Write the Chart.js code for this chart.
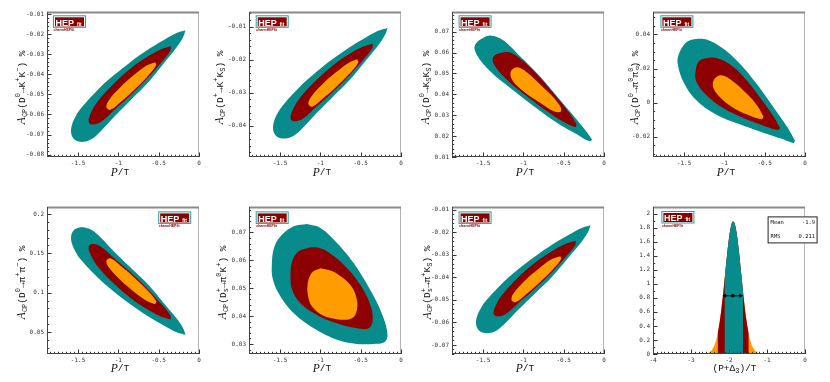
<!DOCTYPE html>
<html>
<head>
<meta charset="utf-8">
<script src="https://cdn.jsdelivr.net/npm/chart.js@4/dist/chart.umd.min.js"></script>
<style>
  html, body { margin: 0; padding: 0; background: #fff; }
  #wrap { position: relative; width: 830px; height: 382px; overflow: hidden; }
  canvas { position: absolute; }
</style>
</head>
<body>
<div id="wrap"></div>
<script>
// Contours, [P/T, A_CP %], 99.7% / 95% / 68% regions
const kk99 = [[-0.167,-0.0180],[-0.284,-0.0195],[-0.441,-0.0230],[-0.646,-0.0280],[-0.852,-0.0339],[-1.058,-0.0405],[-1.263,-0.0480],[-1.469,-0.0572],[-1.531,-0.0610],[-1.574,-0.0650],[-1.586,-0.0690],[-1.556,-0.0720],[-1.494,-0.0735],[-1.407,-0.0735],[-1.321,-0.0720],[-1.222,-0.0685],[-1.058,-0.0614],[-0.852,-0.0530],[-0.646,-0.0447],[-0.441,-0.0347],[-0.275,-0.0264],[-0.198,-0.0215],[-0.167,-0.0180]];
const kk95 = [[-0.349,-0.0260],[-0.481,-0.0277],[-0.646,-0.0314],[-0.852,-0.0372],[-1.058,-0.0447],[-1.263,-0.0539],[-1.354,-0.0605],[-1.367,-0.0639],[-1.325,-0.0650],[-1.222,-0.0639],[-1.058,-0.0580],[-0.852,-0.0505],[-0.646,-0.0422],[-0.481,-0.0347],[-0.358,-0.0284],[-0.349,-0.0260]];
const kk68 = [[-0.543,-0.0339],[-0.646,-0.0355],[-0.811,-0.0405],[-0.975,-0.0464],[-1.120,-0.0530],[-1.148,-0.0564],[-1.099,-0.0577],[-0.975,-0.0539],[-0.811,-0.0480],[-0.646,-0.0414],[-0.531,-0.0355],[-0.543,-0.0339]];

const kpks99 = [[-0.167,-0.0104],[-0.284,-0.0113],[-0.441,-0.0134],[-0.646,-0.0164],[-0.852,-0.0199],[-1.058,-0.0239],[-1.263,-0.0284],[-1.469,-0.0339],[-1.531,-0.0362],[-1.574,-0.0386],[-1.586,-0.0410],[-1.556,-0.0428],[-1.494,-0.0437],[-1.407,-0.0437],[-1.321,-0.0428],[-1.222,-0.0407],[-1.058,-0.0364],[-0.852,-0.0314],[-0.646,-0.0264],[-0.441,-0.0204],[-0.275,-0.0154],[-0.198,-0.0125],[-0.167,-0.0104]];
const kpks95 = [[-0.349,-0.0152],[-0.481,-0.0162],[-0.646,-0.0184],[-0.852,-0.0219],[-1.058,-0.0264],[-1.263,-0.0319],[-1.354,-0.0359],[-1.367,-0.0379],[-1.325,-0.0386],[-1.222,-0.0379],[-1.058,-0.0344],[-0.852,-0.0299],[-0.646,-0.0249],[-0.481,-0.0204],[-0.358,-0.0166],[-0.349,-0.0152]];
const kpks68 = [[-0.543,-0.0199],[-0.646,-0.0209],[-0.811,-0.0239],[-0.975,-0.0274],[-1.120,-0.0314],[-1.148,-0.0334],[-1.099,-0.0342],[-0.975,-0.0319],[-0.811,-0.0284],[-0.646,-0.0244],[-0.531,-0.0209],[-0.543,-0.0199]];

const ksks99 = [[-0.145,0.0181],[-0.207,0.0216],[-0.373,0.0295],[-0.581,0.0390],[-0.830,0.0501],[-1.079,0.0597],[-1.245,0.0657],[-1.369,0.0679],[-1.452,0.0679],[-1.598,0.0637],[-1.577,0.0589],[-1.411,0.0510],[-1.162,0.0430],[-0.871,0.0343],[-0.581,0.0263],[-0.332,0.0208],[-0.187,0.0176],[-0.145,0.0181]];
const ksks95 = [[-0.340,0.0256],[-0.415,0.0303],[-0.581,0.0383],[-0.788,0.0478],[-0.996,0.0557],[-1.141,0.0597],[-1.224,0.0602],[-1.369,0.0581],[-1.361,0.0541],[-1.203,0.0470],[-0.954,0.0390],[-0.705,0.0319],[-0.498,0.0267],[-0.353,0.0243],[-0.340,0.0256]];
const ksks68 = [[-0.531,0.0335],[-0.622,0.0383],[-0.788,0.0446],[-0.954,0.0505],[-1.079,0.0529],[-1.154,0.0510],[-1.141,0.0470],[-0.996,0.0414],[-0.788,0.0359],[-0.622,0.0319],[-0.539,0.0316],[-0.531,0.0335]];

const pi0pi099 = [[-0.124,-0.0223],[-0.216,-0.0146],[-0.402,-0.0019],[-0.610,0.0117],[-0.817,0.0233],[-1.025,0.0320],[-1.212,0.0369],[-1.357,0.0373],[-1.481,0.0350],[-1.573,0.0272],[-1.573,0.0214],[-1.502,0.0117],[-1.357,0.0019],[-1.108,-0.0068],[-0.817,-0.0126],[-0.527,-0.0175],[-0.278,-0.0214],[-0.145,-0.0237],[-0.124,-0.0223]];
const pi0pi095 = [[-0.307,-0.0151],[-0.382,-0.0087],[-0.527,0.0010],[-0.714,0.0126],[-0.900,0.0214],[-1.087,0.0260],[-1.212,0.0262],[-1.315,0.0243],[-1.357,0.0184],[-1.349,0.0126],[-1.232,0.0049],[-1.025,-0.0029],[-0.776,-0.0087],[-0.527,-0.0132],[-0.340,-0.0161],[-0.307,-0.0151]];
const pi0pi068 = [[-0.515,-0.0082],[-0.589,-0.0019],[-0.734,0.0058],[-0.880,0.0120],[-0.992,0.0155],[-1.066,0.0159],[-1.137,0.0126],[-1.129,0.0078],[-1.025,0.0019],[-0.859,-0.0039],[-0.672,-0.0078],[-0.535,-0.0097],[-0.515,-0.0082]];

const pipi99 = [[-0.167,0.0464],[-0.284,0.0501],[-0.441,0.0587],[-0.646,0.0709],[-0.852,0.0853],[-1.058,0.1016],[-1.263,0.1200],[-1.469,0.1424],[-1.531,0.1519],[-1.574,0.1617],[-1.586,0.1715],[-1.556,0.1789],[-1.494,0.1825],[-1.407,0.1825],[-1.321,0.1789],[-1.222,0.1703],[-1.058,0.1527],[-0.852,0.1322],[-0.646,0.1118],[-0.441,0.0872],[-0.275,0.0669],[-0.198,0.0550],[-0.167,0.0464]];
const pipi95 = [[-0.349,0.0660],[-0.481,0.0701],[-0.646,0.0791],[-0.852,0.0934],[-1.058,0.1118],[-1.263,0.1343],[-1.354,0.1507],[-1.367,0.1588],[-1.325,0.1617],[-1.222,0.1588],[-1.058,0.1445],[-0.852,0.1261],[-0.646,0.1057],[-0.481,0.0872],[-0.358,0.0717],[-0.349,0.0660]];
const pipi68 = [[-0.543,0.0852],[-0.646,0.0893],[-0.811,0.1016],[-0.975,0.1160],[-1.120,0.1322],[-1.148,0.1405],[-1.099,0.1437],[-0.975,0.1344],[-0.811,0.1199],[-0.646,0.1036],[-0.531,0.0893],[-0.543,0.0852]];

const dspi0k99 = [[-1.165,0.0730],[-1.000,0.0716],[-0.794,0.0662],[-0.588,0.0590],[-0.383,0.0494],[-0.239,0.0410],[-0.169,0.0338],[-0.198,0.0308],[-0.342,0.0300],[-0.588,0.0302],[-0.835,0.0320],[-1.082,0.0356],[-1.329,0.0410],[-1.494,0.0470],[-1.588,0.0530],[-1.601,0.0590],[-1.568,0.0650],[-1.473,0.0692],[-1.329,0.0722],[-1.165,0.0730]];
const dspi0k95 = [[-1.123,0.0647],[-1.021,0.0645],[-0.918,0.0632],[-0.712,0.0584],[-0.506,0.0512],[-0.374,0.0434],[-0.354,0.0380],[-0.403,0.0356],[-0.547,0.0356],[-0.794,0.0374],[-1.041,0.0404],[-1.247,0.0446],[-1.350,0.0494],[-1.370,0.0542],[-1.350,0.0596],[-1.267,0.0632],[-1.123,0.0647]];
const dspi0k68 = [[-1.000,0.0571],[-0.877,0.0563],[-0.753,0.0544],[-0.630,0.0512],[-0.556,0.0470],[-0.547,0.0422],[-0.609,0.0392],[-0.794,0.0389],[-0.979,0.0404],[-1.103,0.0434],[-1.152,0.0470],[-1.156,0.0518],[-1.103,0.0556],[-1.000,0.0571]];

const dspiks99 = [[-0.167,-0.0169],[-0.284,-0.0182],[-0.441,-0.0212],[-0.646,-0.0255],[-0.852,-0.0306],[-1.058,-0.0362],[-1.263,-0.0427],[-1.469,-0.0506],[-1.531,-0.0539],[-1.574,-0.0573],[-1.586,-0.0607],[-1.556,-0.0633],[-1.494,-0.0646],[-1.407,-0.0646],[-1.321,-0.0633],[-1.222,-0.0603],[-1.058,-0.0542],[-0.852,-0.0470],[-0.646,-0.0398],[-0.441,-0.0312],[-0.275,-0.0241],[-0.198,-0.0199],[-0.167,-0.0169]];
const dspiks95 = [[-0.349,-0.0238],[-0.481,-0.0252],[-0.646,-0.0284],[-0.852,-0.0334],[-1.058,-0.0398],[-1.263,-0.0478],[-1.354,-0.0534],[-1.367,-0.0564],[-1.325,-0.0573],[-1.222,-0.0564],[-1.058,-0.0513],[-0.852,-0.0448],[-0.646,-0.0377],[-0.481,-0.0312],[-0.358,-0.0258],[-0.349,-0.0238]];
const dspiks68 = [[-0.543,-0.0306],[-0.646,-0.0319],[-0.811,-0.0362],[-0.975,-0.0413],[-1.120,-0.0470],[-1.148,-0.0499],[-1.099,-0.0510],[-0.975,-0.0478],[-0.811,-0.0427],[-0.646,-0.0370],[-0.531,-0.0319],[-0.543,-0.0306]];

// (P+Delta3)/T posterior
const histX = [-2.65,-2.60,-2.55,-2.50,-2.45,-2.40,-2.35,-2.30,-2.25,-2.20,-2.15,-2.12,-2.10,-2.05,-2.00,-1.95,-1.90,-1.85,-1.80,-1.75,-1.70,-1.65,-1.63,-1.60,-1.55,-1.50,-1.48,-1.45,-1.40,-1.35,-1.30,-1.25,-1.20,-1.15];
const histY = [0.003,0.007,0.014,0.029,0.056,0.102,0.176,0.286,0.441,0.643,0.885,1.044,1.153,1.418,1.651,1.816,1.889,1.857,1.727,1.517,1.261,0.990,0.885,0.736,0.516,0.343,0.286,0.215,0.128,0.072,0.038,0.019,0.009,0.004];
const bandLimits = [[-2.12,-1.63],[-2.30,-1.48],[-2.65,-1.15]];
const markerX = [-2.11,-1.90,-1.69];
const markerY = 0.83;
const statsLabels = ['Mean','RMS'];
const statsValues = ['-1.9','0.211'];

// axes
const xRange = [-1.885, 0];
const yRanges = [[-0.0812,-0.0089],[-0.0494,-0.0056],[0.01,0.0794],[-0.0319,0.0532],[0.022,0.2089],[0.0264,0.0791],[-0.074,-0.0088]];
const ySteps = [0.01,0.01,0.01,0.02,0.05,0.01,0.01];
const yDivs = [5,5,5,4,5,5,5];

const yTitles = [
  [['A','i'],['CP','sub'],['(D','n'],['0','sup'],['→K','n'],['+','sup'],['K','n'],['−','sup'],[') %','n']],
  [['A','i'],['CP','sub'],['(D','n'],['+','sup'],['→K','n'],['+','sup'],['K','n'],['S','sub'],[') %','n']],
  [['A','i'],['CP','sub'],['(D','n'],['0','sup'],['→K','n'],['S','sub'],['K','n'],['S','sub'],[') %','n']],
  [['A','i'],['CP','sub'],['(D','n'],['0','sup'],['→π','n'],['0','sup'],['π','n'],['0','sup'],[') %','n']],
  [['A','i'],['CP','sub'],['(D','n'],['0','sup'],['→π','n'],['+','sup'],['π','n'],['−','sup'],[') %','n']],
  [['A','i'],['CP','sub'],['(D','n'],['s','sub_'],['+','sup'],['→π','n'],['0','sup'],['K','n'],['+','sup'],[') %','n']],
  [['A','i'],['CP','sub'],['(D','n'],['s','sub_'],['+','sup'],['→π','n'],['+','sup'],['K','n'],['S','sub'],[') %','n']]
];
const xTitle = [['P','i'],['/T','n']];
const xTitleHist = [['(P+Δ','n'],['3','sub'],[')/T','n']];

const contours = [
  [kk99, kk95, kk68], [kpks99, kpks95, kpks68], [ksks99, ksks95, ksks68], [pi0pi099, pi0pi095, pi0pi068],
  [pipi99, pipi95, pipi68], [dspi0k99, dspi0k95, dspi0k68], [dspiks99, dspiks95, dspiks68]
];

const TEAL = '#078b8b', RED = '#8c0000', ORANGE = '#ff9c00';
const colLeft = [0, 202, 405, 606];
const rowTop = [0, 191];
const rowPad = [12, 16];   // plot top inside canvas
const rowXH = [34, 28];    // x axis band height
const rowTitleDy = [15.5, 14.5];
const yTitleOff = [25, 29, 26, 18, 25, 26, 24.5];
const logoPos = [['l',6,3.3],['l',6.7,3.3],['l',6.6,3.3],['l',7.4,3.3],['r',8.3,4.4],['l',6.7,4.4],['l',6.6,4.4],['l',8.4,4]];

const tickFont = {family: '"DejaVu Sans Mono", monospace', size: 6};
const fmt = v => String(+(+v).toFixed(4));

function fontFor(kind, fs) {
  if (kind === 'i') return 'italic ' + (fs + 2) + 'px "Liberation Serif"';
  if (kind === 'n') return fs + 'px "Liberation Mono"';
  return Math.round(fs * 0.7) + 'px "Liberation Mono"';
}

function drawRich(ctx, parts, x, y, fs, rotate, anchor) {
  ctx.save();
  ctx.translate(x, y);
  if (rotate) ctx.rotate(-Math.PI / 2);
  ctx.textBaseline = 'middle';
  ctx.textAlign = 'left';
  ctx.fillStyle = '#111';
  const adv = parts.map(([t, k]) => {
    ctx.font = fontFor(k, fs);
    return k === 'sub_' ? 0 : ctx.measureText(t).width;
  });
  const total = adv.reduce((s, w) => s + w, 0);
  let cx = anchor === 'end' ? -total : -total / 2;
  parts.forEach(([t, k], i) => {
    ctx.font = fontFor(k, fs);
    const dy = (k === 'sub' || k === 'sub_') ? fs * 0.32 : k === 'sup' ? -fs * 0.38 : 0;
    ctx.fillText(t, cx, dy);
    cx += adv[i];
  });
  ctx.restore();
}

function drawLogo(ctx, x, y) {
  ctx.save();
  ctx.strokeStyle = '#2a9d9d';
  ctx.lineWidth = 1;
  ctx.strokeRect(x + 0.5, y + 0.5, 32, 11.5);
  ctx.fillStyle = RED;
  ctx.fillRect(x + 2, y + 2, 29, 9);
  ctx.fillStyle = '#fff';
  ctx.textBaseline = 'alphabetic';
  ctx.font = 'bold 9px "Liberation Sans"';
  ctx.fillText('HEP', x + 2.5, y + 10.3);
  ctx.font = 'bold 5px "Liberation Sans"';
  ctx.fillText('fit', x + 24, y + 10.3);
  ctx.fillStyle = RED;
  ctx.font = 'bold 3.5px "Liberation Sans"';
  ctx.fillText('charmHEPfit', x + 0.5, y + 16);
  ctx.restore();
}

function drawTicks(ctx, a, scale, step, div, vertical) {
  const ms = step / div;
  const k0 = Math.ceil(scale.min / ms - 1e-6), k1 = Math.floor(scale.max / ms + 1e-6);
  ctx.beginPath();
  for (let k = k0; k <= k1; k++) {
    const len = (k % div === 0) ? 4.5 : 2.2;
    const p = Math.round(scale.getPixelForValue(k * ms)) + 0.5;
    if (vertical) { ctx.moveTo(a.left, p); ctx.lineTo(a.left + len, p); }
    else { ctx.moveTo(p, a.bottom); ctx.lineTo(p, a.bottom - len); }
  }
  ctx.stroke();
}

function deco(p) {
  return {
    id: 'deco',
    afterDraw(chart) {
      const {ctx, chartArea: a, scales: {x, y}} = chart;
      ctx.save();
      ctx.strokeStyle = '#333';
      ctx.lineWidth = 1;
      drawTicks(ctx, a, y, p.yStep, p.yDiv, true);
      drawTicks(ctx, a, x, p.xStep, p.xDiv, false);
      ctx.strokeStyle = '#b4b4b4';
      ctx.beginPath(); ctx.moveTo(a.right - 0.5, a.top); ctx.lineTo(a.right - 0.5, a.bottom); ctx.stroke();
      ctx.strokeStyle = '#8a8a8a'; ctx.lineWidth = 2;
      ctx.beginPath(); ctx.moveTo(a.left, a.top + 0.5); ctx.lineTo(a.right, a.top + 0.5); ctx.stroke();
      ctx.strokeStyle = '#444'; ctx.lineWidth = 1;
      ctx.beginPath();
      ctx.moveTo(a.left + 0.5, a.top); ctx.lineTo(a.left + 0.5, a.bottom);
      ctx.moveTo(a.left, a.bottom - 0.5); ctx.lineTo(a.right, a.bottom - 0.5);
      ctx.stroke();

      const [side, dx, dy] = p.logo;
      drawLogo(ctx, side === 'l' ? a.left + dx : a.right - dx - 32.5, a.top + dy);

      if (p.yTitle) drawRich(ctx, p.yTitle, a.left - p.yOff, a.top + 38.5, 9.5, true, 'end');
      drawRich(ctx, p.xTitle, (a.left + a.right) / 2 + p.xTitleDx, a.bottom + p.titleDy, 9.5, false, 'center');

      if (p.stats) {
        const bx = a.right - 37.4, by = a.top + 9.4, bw = 50, bh = 27;
        ctx.fillStyle = '#fff';
        ctx.fillRect(bx, by, bw, bh);
        ctx.strokeStyle = '#222';
        ctx.strokeRect(bx + 0.5, by + 0.5, bw - 1, bh - 1);
        ctx.fillStyle = '#111';
        ctx.font = '5.5px "DejaVu Sans Mono"';
        ctx.textBaseline = 'middle';
        statsLabels.forEach((s, i) => {
          const ty = by + 6.6 + i * 14;
          ctx.textAlign = 'left';
          ctx.fillText(s, bx + 3, ty);
          ctx.textAlign = 'right';
          ctx.fillText(statsValues[i], bx + bw - 2.5, ty);
        });
      }
      ctx.restore();
    }
  };
}

function axis(min, max, step, size, horizontal) {
  return {
    type: 'linear', min, max,
    grid: {display: false, drawTicks: false},
    border: {display: false},
    afterFit: s => { if (horizontal) s.height = size; else s.width = size; },
    ticks: {stepSize: step, maxTicksLimit: 100, includeBounds: false, autoSkip: false,
            maxRotation: 0, padding: 3, font: tickFont, color: '#333', callback: fmt}
  };
}

const toXY = pts => pts.map(([x, y]) => ({x, y}));

function makePanel(i, datasets, xAx, yAx, p) {
  const row = i < 4 ? 0 : 1, col = i % 4;
  const w = col === 3 ? 224 : 207, h = 191;
  const cv = document.createElement('canvas');
  cv.width = w; cv.height = h;
  cv.style.left = colLeft[col] + 'px';
  cv.style.top = rowTop[row] + 'px';
  cv.style.width = w + 'px'; cv.style.height = h + 'px';
  document.getElementById('wrap').appendChild(cv);
  new Chart(cv.getContext('2d'), {
    type: 'scatter',
    data: {datasets},
    options: {
      responsive: false, animation: false, devicePixelRatio: 1,
      layout: {padding: {left: 0, top: rowPad[row], right: w - 47 - 152, bottom: 0}},
      plugins: {legend: {display: false}, tooltip: {enabled: false}},
      scales: {x: xAx, y: yAx}
    },
    plugins: [deco(Object.assign({titleDy: rowTitleDy[row], logo: logoPos[i]}, p))]
  });
}

// contour panels (dataset 0 is drawn on top)
contours.forEach((c, i) => {
  const row = i < 4 ? 0 : 1;
  const sets = [[c[2], ORANGE], [c[1], RED], [c[0], TEAL]].map(([pts, col]) => ({
    data: toXY(pts), showLine: true, fill: 'shape', tension: 0.38,
    backgroundColor: col, borderColor: col, borderWidth: 0, pointRadius: 0
  }));
  makePanel(i, sets,
    axis(xRange[0], xRange[1], 0.5, rowXH[row], true),
    axis(yRanges[i][0], yRanges[i][1], ySteps[i], 47, false),
    {yStep: ySteps[i], yDiv: yDivs[i], xStep: 0.5, xDiv: 10, yTitle: yTitles[i], yOff: yTitleOff[i],
     xTitle: xTitle, xTitleDx: -3});
});

// histogram panel
const histPts = histX.map((x, k) => ({x, y: histY[k]}));
const bandSets = [TEAL, RED, ORANGE].map((col, b) => ({
  data: histPts.filter(q => q.x >= bandLimits[b][0] - 1e-9 && q.x <= bandLimits[b][1] + 1e-9),
  showLine: true, fill: 'origin', cubicInterpolationMode: 'monotone',
  backgroundColor: col, borderColor: col, borderWidth: 0, pointRadius: 0
}));
const markerSet = {
  data: markerX.map(x => ({x, y: markerY})), showLine: true, fill: false,
  borderColor: '#000', borderWidth: 1, backgroundColor: '#000',
  pointStyle: ['triangle', 'circle', 'triangle'], rotation: [-90, 0, 90], pointRadius: [2.4, 1.8, 2.4],
  pointBackgroundColor: '#000', pointBorderColor: '#000', pointBorderWidth: 0
};
makePanel(7, [markerSet].concat(bandSets),
  axis(-4, 0, 1, rowXH[1], true),
  axis(0, 2.096, 0.2, 47, false),
  {yStep: 0.2, yDiv: 2, xStep: 1, xDiv: 10, yTitle: null, xTitle: xTitleHist, xTitleDx: 5.5, stats: true});
</script>
</body>
</html>
